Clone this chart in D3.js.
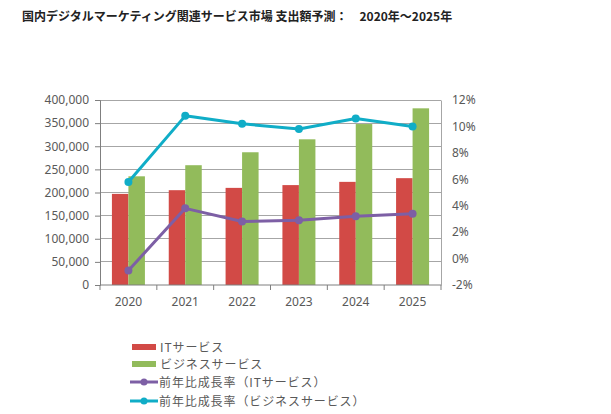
<!DOCTYPE html>
<html><head><meta charset="utf-8">
<script src="https://cdn.jsdelivr.net/npm/d3@7"></script>
<style>body{margin:0;background:#fff;font-family:"Noto Sans CJK JP","Noto Sans",sans-serif;}</style>
</head><body>
<svg id="chart" width="611" height="414"></svg>
<script>
const title = "国内デジタルマーケティング関連サービス市場 支出額予測：　2020年～2025年";
const years = ["2020","2021","2022","2023","2024","2025"];
const itService = [197000, 205000, 210000, 216000, 223000, 231000];
const bizService = [235000, 259000, 287000, 315000, 348000, 382000];
const itGrowth = [-0.9, 3.8, 2.8, 2.9, 3.2, 3.4];
const bizGrowth = [5.8, 10.8, 10.2, 9.8, 10.6, 10.0];
const leftTicks = [0,50000,100000,150000,200000,250000,300000,350000,400000];
const rightTicks = [-2,0,2,4,6,8,10,12];
const seriesNames = ["ITサービス","ビジネスサービス","前年比成長率（ITサービス）","前年比成長率（ビジネスサービス）"];
const colors = {red:"#d24a46", green:"#92bb5b", purple:"#7d5fa5", cyan:"#10adc7"};

const svg = d3.select("#chart");
const m = {l:100, r:441, t:100, b:285};
const x = d3.scaleBand().domain(years).range([m.l, m.r]);
const yL = d3.scaleLinear().domain([0,400000]).range([m.b, m.t]);
const yR = d3.scaleLinear().domain([-2,12]).range([m.b, m.t]);
const fmt = d3.format(",");
const txtCol = "#595959";

svg.append("text").attr("x",22).attr("y",21).attr("font-size",12).attr("font-weight","bold")
  .attr("fill","#222").text(title);

// gridlines
svg.append("g").selectAll("line").data(leftTicks.slice(1)).join("line")
  .attr("x1",m.l).attr("x2",m.r).attr("y1",d=>yL(d)).attr("y2",d=>yL(d))
  .attr("stroke","#a6a6a6").attr("stroke-width",1).attr("shape-rendering","crispEdges");

// left axis
const gl = svg.append("g").attr("transform",`translate(${m.l},0)`)
  .call(d3.axisLeft(yL).tickValues(leftTicks).tickFormat(fmt).tickSize(5).tickPadding(6));
gl.select(".domain").attr("stroke","#7f7f7f");
gl.selectAll(".tick line").attr("stroke","#7f7f7f");
gl.selectAll("text").attr("font-size",12).attr("fill",txtCol).attr("font-family","Noto Sans, sans-serif");

// right axis
const gr = svg.append("g").attr("transform",`translate(${m.r},0)`)
  .call(d3.axisRight(yR).tickValues(rightTicks).tickFormat(d=>d+"%").tickSize(0).tickPadding(11));
gr.select(".domain").attr("stroke","#a6a6a6");
gr.selectAll("text").attr("font-size",12).attr("fill",txtCol).attr("font-family","Noto Sans, sans-serif");

// bars
const bw = 16.5;
const gb = svg.append("g");
gb.selectAll("rect.it").data(years).join("rect").attr("class","it")
  .attr("x",(d)=>x(d)+x.bandwidth()/2-bw).attr("width",bw)
  .attr("y",(d,i)=>yL(itService[i])).attr("height",(d,i)=>m.b-yL(itService[i]))
  .attr("fill",colors.red);
gb.selectAll("rect.biz").data(years).join("rect").attr("class","biz")
  .attr("x",(d)=>x(d)+x.bandwidth()/2).attr("width",bw)
  .attr("y",(d,i)=>yL(bizService[i])).attr("height",(d,i)=>m.b-yL(bizService[i]))
  .attr("fill",colors.green);

// x axis
const gx = svg.append("g").attr("transform",`translate(0,${m.b})`);
gx.append("line").attr("x1",m.l).attr("x2",m.r).attr("y1",0).attr("y2",0).attr("stroke","#7f7f7f");
const bounds = years.map(d=>x(d)).concat([m.r]);
gx.selectAll("line.tk").data(bounds).join("line").attr("class","tk")
  .attr("x1",d=>d).attr("x2",d=>d).attr("y1",0).attr("y2",5).attr("stroke","#7f7f7f");
gx.selectAll("text").data(years).join("text")
  .attr("x",d=>x(d)+x.bandwidth()/2).attr("y",21).attr("text-anchor","middle")
  .attr("font-size",12).attr("fill",txtCol).attr("font-family","Noto Sans, sans-serif").text(d=>d);

// lines
function drawLine(vals,col){
  const cx = (d,i)=>x(years[i])+x.bandwidth()/2;
  svg.append("path").datum(vals).attr("fill","none").attr("stroke",col).attr("stroke-width",3)
    .attr("stroke-linejoin","round")
    .attr("d",d3.line().x(cx).y(d=>yR(d)));
  svg.append("g").selectAll("circle").data(vals).join("circle")
    .attr("cx",cx).attr("cy",d=>yR(d)).attr("r",4).attr("fill",col);
}
drawLine(itGrowth, colors.purple);
drawLine(bizGrowth, colors.cyan);

// legend
const lg = svg.append("g");
const rows = [347, 364, 382, 401];
const lcol = [colors.red, colors.green, colors.purple, colors.cyan];
seriesNames.forEach((name,i)=>{
  const y = rows[i];
  if(i<2){
    lg.append("rect").attr("x",132).attr("y",y-3).attr("width",24).attr("height",6).attr("fill",lcol[i]);
  } else {
    lg.append("line").attr("x1",130).attr("x2",158).attr("y1",y).attr("y2",y).attr("stroke",lcol[i]).attr("stroke-width",3);
    lg.append("circle").attr("cx",144).attr("cy",y).attr("r",3.5).attr("fill",lcol[i]);
  }
  lg.append("text").attr("x",i<2?160:159).attr("y",y+4.5).attr("font-size",12).attr("letter-spacing",0.9)
    .attr("fill",txtCol).attr("font-family","Noto Sans CJK JP, sans-serif").text(name);
});
</script>
</body></html>
